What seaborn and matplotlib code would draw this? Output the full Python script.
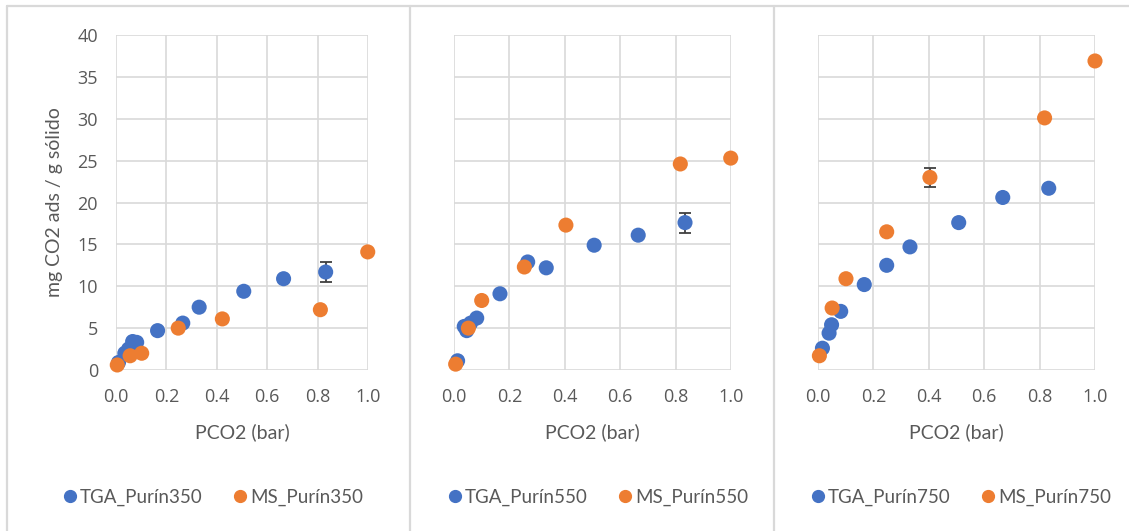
import numpy as np
import pandas as pd
import matplotlib
matplotlib.use("Agg")
import matplotlib.pyplot as plt
from matplotlib.lines import Line2D
import seaborn as sns

# ---------------- data ----------------
p350_tga_x = [0.01, 0.035, 0.05, 0.066, 0.082, 0.165, 0.265, 0.33, 0.507, 0.665, 0.832]
p350_tga_y = [0.9, 2.0, 2.5, 3.4, 3.3, 4.7, 5.6, 7.5, 9.4, 10.9, 11.7]
p350_tga_e = [0, 0, 0, 0, 0, 0, 0, 0, 0, 0, 1.2]
p350_ms_x = [0.005, 0.056, 0.102, 0.247, 0.422, 0.811, 0.999]
p350_ms_y = [0.6, 1.7, 2.0, 5.0, 6.1, 7.2, 14.1]
p350_ms_e = [0, 0, 0, 0, 0, 0, 0]

p550_tga_x = [0.013, 0.037, 0.046, 0.06, 0.082, 0.166, 0.266, 0.333, 0.506, 0.665, 0.834]
p550_tga_y = [1.1, 5.2, 4.7, 5.6, 6.2, 9.1, 12.9, 12.2, 14.9, 16.1, 17.6]
p550_tga_e = [0, 0, 0, 0, 0, 0, 0, 0, 0, 0, 1.2]
p550_ms_x = [0.006, 0.052, 0.10, 0.254, 0.404, 0.817, 0.999]
p550_ms_y = [0.7, 5.0, 8.3, 12.3, 17.3, 24.6, 25.3]
p550_ms_e = [0, 0, 0, 0, 0, 0, 0]

p750_tga_x = [0.016, 0.04, 0.049, 0.082, 0.167, 0.248, 0.332, 0.508, 0.667, 0.833]
p750_tga_y = [2.6, 4.4, 5.4, 7.0, 10.2, 12.5, 14.7, 17.6, 20.6, 21.7]
p750_tga_e = [0, 0, 0, 0.3, 0, 0, 0, 0, 0, 0]
p750_ms_x = [0.005, 0.051, 0.101, 0.248, 0.404, 0.818, 1.0]
p750_ms_y = [1.7, 7.4, 10.9, 16.5, 23.0, 30.1, 36.9]
p750_ms_e = [0, 0, 0.35, 0, 1.15, 0, 0]

series_names = [("TGA_Purín350", "MS_Purín350"),
                ("TGA_Purín550", "MS_Purín550"),
                ("TGA_Purín750", "MS_Purín750")]
panels = [
    (p350_tga_x, p350_tga_y, p350_tga_e, p350_ms_x, p350_ms_y, p350_ms_e),
    (p550_tga_x, p550_tga_y, p550_tga_e, p550_ms_x, p550_ms_y, p550_ms_e),
    (p750_tga_x, p750_tga_y, p750_tga_e, p750_ms_x, p750_ms_y, p750_ms_e),
]
x_ticks = [0.0, 0.2, 0.4, 0.6, 0.8, 1.0]
y_ticks = [0, 5, 10, 15, 20, 25, 30, 35, 40]
x_label = "PCO2 (bar)"
y_label = "mg CO2 ads / g sólido"

# ---------------- style ----------------
sns.set_theme(style="white")
plt.rcParams["font.family"] = ["Open Sans", "DejaVu Sans"]
BLUE = "#4472C4"
ORANGE = "#ED7D31"
TXT = "#595959"
GRID = "#D9D9D9"

W, H = 1129, 531
fig = plt.figure(figsize=(W / 100, H / 100), dpi=100)

ax_lefts = [116, 454, 818]
ax_widths = [252, 277, 277]
ax_top, ax_bot = 35, 370
legend_cx = [212, 597, 960]

for i, (tx, ty, te, mx, my, me) in enumerate(panels):
    ax = fig.add_axes([ax_lefts[i] / W, 1 - ax_bot / H, ax_widths[i] / W, (ax_bot - ax_top) / H])
    df_t = pd.DataFrame({"x": tx, "y": ty, "e": te})
    df_m = pd.DataFrame({"x": mx, "y": my, "e": me})

    for df in (df_t, df_m):
        sub = df[df["e"] > 0]
        if len(sub):
            ax.errorbar(sub["x"], sub["y"], yerr=sub["e"], fmt="none",
                        ecolor="#404040", elinewidth=1.3, capsize=4.5, capthick=1.3, zorder=2)

    sns.scatterplot(data=df_t, x="x", y="y", ax=ax, color=BLUE, s=118,
                    edgecolor="none", linewidth=0, zorder=3, label=series_names[i][0],
                    clip_on=False, legend=False)
    sns.scatterplot(data=df_m, x="x", y="y", ax=ax, color=ORANGE, s=118,
                    edgecolor="none", linewidth=0, zorder=4, label=series_names[i][1],
                    clip_on=False, legend=False)

    ax.set_xlim(0, 1.0)
    ax.set_ylim(0, 40)
    ax.set_xticks(x_ticks)
    ax.set_xticklabels([f"{v:.1f}" for v in x_ticks])
    ax.set_yticks(y_ticks)
    if i == 0:
        ax.set_yticklabels([str(v) for v in y_ticks])
    else:
        ax.set_yticklabels([])
    ax.tick_params(axis="both", length=0, pad=13, labelsize=13, labelcolor=TXT)
    ax.grid(True, color=GRID, linewidth=1.2)
    ax.set_axisbelow(True)
    for sp in ax.spines.values():
        sp.set_visible(False)

    ax.set_xlabel(x_label, fontsize=14, color=TXT, family=["Lato", "DejaVu Sans"], va="center")
    ax.xaxis.set_label_coords(0.5, (ax_bot - 432) / (ax_bot - ax_top))
    if i == 0:
        ax.set_ylabel(y_label, fontsize=14, color=TXT, family=["Lato", "DejaVu Sans"], va="center")
        ax.yaxis.set_label_coords((55 - ax_lefts[0]) / ax_widths[0], 0.5)
    else:
        ax.set_ylabel("")

    handles = [Line2D([], [], marker="o", linestyle="none", color=BLUE, markersize=8.5),
               Line2D([], [], marker="o", linestyle="none", color=ORANGE, markersize=8.5)]
    leg = ax.legend(handles, series_names[i], loc="center",
                    bbox_to_anchor=(legend_cx[i] / W, 1 - 497 / H),
                    bbox_transform=fig.transFigure, ncol=2, frameon=False,
                    handletextpad=0.05, columnspacing=1.5, handlelength=1.0,
                    prop={"family": ["Lato", "DejaVu Sans"], "size": 13.5})
    for t in leg.get_texts():
        t.set_color(TXT)

# panel frames
def fig_line(x0, y0, x1, y1):
    fig.add_artist(Line2D([x0 / W, x1 / W], [1 - y0 / H, 1 - y1 / H],
                          color=GRID, linewidth=1.6, transform=fig.transFigure))

fig_line(7, 6, W, 6)
for xv in (7, 410, 774):
    fig_line(xv, 6, xv, H)

fig.savefig("out.png", dpi=100, facecolor="white")
